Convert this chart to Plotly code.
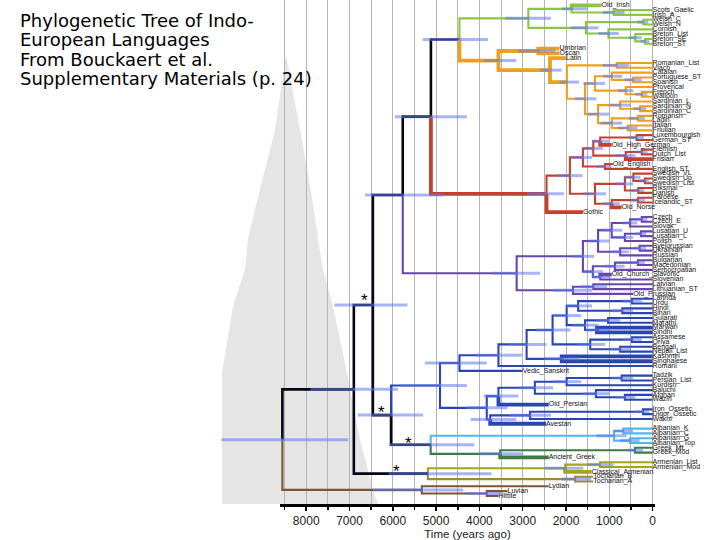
import plotly.graph_objects as go

# ---------------- data ----------------
leaf_names = [
    "Old_Irish", "Scots_Gaelic", "Irish_A", "Welsh_C", "Welsh_N", "Cornish", "Breton_List", "Breton_SE", "Breton_ST",
    "Umbrian", "Oscan", "Latin", "Romanian_List", "Vlach", "Catalan", "Portuguese_ST", "Spanish", "Provencal",
    "French", "Walloon", "Sardinian_L", "Sardinian_N", "Sardinian_C", "Romansh", "Ladin", "Italian", "Friulian",
    "Luxembourgish", "German_ST", "Old_High_German", "Flemish", "Dutch_List", "Frisian", "Old_English", "English_ST",
    "Swedish_VL", "Swedish_Up", "Swedish_List", "Riksmal", "Danish", "Faroese", "Icelandic_ST", "Old_Norse", "Gothic",
    "Czech", "Czech_E", "Slovak", "Lusatian_U", "Lusatian_L", "Polish", "Byelorussian", "Ukrainian", "Russian",
    "Bulgarian", "Macedonian", "Serbocroatian", "Old_Church_Slavonic", "Slovenian", "Latvian", "Lithuanian_ST",
    "Old_Prussian", "Lahnda", "Urdu", "Hindi", "Bihari", "Gujarati", "Marathi", "Marwari", "Sindhi", "Assamese",
    "Oriya", "Bengali", "Nepali_List", "Kashmiri", "Singhalese", "Romani", "Vedic_Sanskrit", "Tadzik", "Persian_List",
    "Kurdish", "Baluchi", "Afghan", "Waziri", "Old_Persian", "Iron_Ossetic", "Digor_Ossetic", "Wakhi", "Avestan",
    "Albanian_K", "Albanian_C", "Albanian_G", "Albanian_Top", "Greek_ML", "Greek_Mod", "Ancient_Greek",
    "Armenian_List", "Armenian_Mod", "Classical_Armenian", "Tocharian_B", "Tocharian_A", "Lydian", "Luvian", "Hittite",
]
leaf_parents = [
    "GOI", "SGI", "SGI", "WEL", "WEL", "CB", "BRE", "BRE2", "BRE2",
    "OU", "OU", "LR", "EROM", "EROM", "IBE", "PS", "PS", "GAL",
    "FW", "FW", "SAR", "SAR2", "SAR2", "RL", "RL", "IF", "IF",
    "LG", "LG", "HG", "FD", "FD", "LOW", "ENG", "ENG",
    "SWE", "SWE2", "SWE2", "RD", "RD", "FI", "FI", "WSC", "GERM",
    "CZ", "CZ", "CZS", "LUS", "LUS", "LUP", "BU", "BU", "ESL",
    "BM", "BM", "BMS", "OS", "OS", "LL", "LL",
    "BAL", "LU", "LU", "HB", "HB", "GM", "GM", "MS", "MS", "AO",
    "AO", "BN", "BN", "KS", "KS", "IND", "IA", "TP", "TP",
    "TPK", "BAW", "AW", "AW", "WIR", "OSS", "OSS", "OW", "EIR",
    "KC", "KC", "GT", "GT", "GRM", "GRM", "GRK",
    "ARM_MOD", "ARM_MOD", "ARM", "TOCH", "TOCH", "ANAT", "LH", "LH",
]
leaf_ages = [
    1180, 0, 0, 0, 0, 0, 0, 0, 0,
    2150, 2150, 2000, 0, 0, 0, 0, 0, 0,
    0, 0, 0, 0, 0, 0, 0, 0, 0,
    0, 0, 945, 0, 0, 0, 920, 0,
    0, 0, 0, 0, 0, 0, 0, 715, 1610,
    0, 0, 0, 0, 0, 0, 0, 0, 0,
    0, 0, 0, 945, 0, 0, 0,
    450, 0, 0, 0, 0, 0, 0, 0, 0, 0,
    0, 0, 0, 0, 0, 0, 3000, 0, 0,
    0, 0, 0, 0, 2400, 0, 0, 0, 2460,
    0, 0, 0, 0, 0, 0, 2400,
    0, 0, 1410, 1370, 1370, 2400, 3350, 3560,
]

node_names = [
    "ROOT", "C", "ANAT", "LH", "B", "TA", "ARM", "ARM_MOD", "TOCH", "A", "D", "A1", "BSL", "CI", "GERM",
    "CEL", "GOI", "SGI", "BRY", "WEL", "CB", "BRE", "BRE2",
    "ITA", "OU", "LR", "ROM", "EROM", "RROM", "WROM", "IBE", "PS", "GAL", "FW", "SI", "SAR", "SAR2", "ITR", "RL", "IF",
    "NWG", "WG", "CONT", "HG", "LG", "LOW", "FD", "ENG", "NG", "ESC", "SWE", "SWE2", "RD", "WSC", "FI",
    "SLA", "WE", "WSL", "CZS", "CZ", "LUP", "LUS", "ESL", "BU", "SSL", "BMS", "BM", "OS", "BAL", "LL",
    "II", "IA", "IND", "X", "Y", "Z", "N1", "LU", "HB", "N2", "GM", "MS", "E", "AO", "BN", "KS",
    "IR", "WIR", "Q", "TPK", "TP", "BAW", "AW", "EIR", "OW", "OSS",
    "AG", "ALB", "KC", "GT", "GRK", "GRM",
]
node_parents = [
    None, "ROOT", "ROOT", "ANAT", "C", "C", "TA", "ARM", "TA", "B", "B", "A", "A", "A1", "A1",
    "CI", "CEL", "GOI", "CEL", "BRY", "BRY", "CB", "BRE",
    "CI", "ITA", "ITA", "LR", "ROM", "ROM", "RROM", "WROM", "IBE", "WROM", "GAL", "RROM", "SI", "SAR", "SI", "ITR", "ITR",
    "GERM", "NWG", "WG", "CONT", "HG", "CONT", "LOW", "WG", "NWG", "NG", "ESC", "SWE", "ESC", "NG", "WSC",
    "BSL", "SLA", "WE", "WSL", "CZS", "WSL", "LUP", "WE", "ESL", "SLA", "SSL", "BMS", "SSL", "BSL", "BAL",
    "D", "II", "IA", "IND", "X", "Y", "Z", "N1", "N1", "Z", "N2", "N2", "Y", "E", "E", "X",
    "II", "IR", "WIR", "Q", "TPK", "Q", "BAW", "IR", "EIR", "OW",
    "D", "AG", "ALB", "ALB", "AG", "GRK",
]
node_ages = [
    8550, 6900, 5330, 3830, 6460, 5190, 2020, 1215, 1790, 5770, 6040, 5120, 3140, 4460, 2450,
    2870, 1870, 900, 1540, 215, 1020, 400, 175,
    3560, 2640, 2370, 1980, 830, 1560, 1330, 940, 450, 620, 250, 1260, 750, 290, 940, 340, 570,
    1910, 1610, 1370, 1210, 370, 620, 250, 1100, 1330, 640, 445, 180, 330, 945, 335,
    1610, 1260, 945, 520, 250, 640, 270, 750, 300, 1380, 870, 340, 1210, 1840, 1370,
    4910, 4460, 3560, 2910, 2310, 1985, 1720, 475, 700, 1560, 1030, 1285, 1440, 475, 750, 2100,
    3830, 3560, 2720, 1985, 715, 1310, 640, 3750, 2830, 220,
    5125, 890, 680, 520, 3520, 405,
]
hpd_old = [
    9960, 7900, 6460, 4300, 7350, 6100, 2500, 1500, 2100, 6640, 6810, 5950, 3700, 5310, 2900,
    3400, 2100, 1150, 1900, 350, 1250, 550, 280,
    3900, 3100, 2600, 2150, 1150, 1800, 1600, 1150, 650, 800, 400, 1500, 1000, 450, 1200, 550, 800,
    2200, 1850, 1600, 1400, 550, 850, 400, 1300, 1600, 850, 650, 300, 480, 1150, 500,
    1850, 1500, 1200, 700, 380, 850, 400, 950, 450, 1600, 1100, 500, 1400, 2300, 1650,
    5800, 5260, 4100, 3300, 2700, 2300, 2000, 700, 950, 1850, 1300, 1550, 1750, 700, 1000, 2500,
    4300, 3900, 3100, 2300, 950, 1600, 850, 4200, 3300, 400,
    6080, 1300, 900, 750, 4000, 600,
]
hpd_young = [
    7030, 5880, 4380, 3500, 5660, 3720, 1600, 900, 1420, 4820, 5300, 4290, 2600, 3800, 2050,
    2350, 1500, 650, 1250, 100, 780, 250, 80,
    3150, 2250, 2100, 1700, 550, 1300, 1100, 700, 250, 450, 120, 1000, 500, 150, 700, 180, 350,
    1620, 1400, 1150, 1000, 200, 400, 120, 950, 1080, 450, 280, 80, 200, 760, 180,
    1350, 1000, 700, 350, 120, 450, 150, 550, 150, 1150, 650, 180, 980, 1400, 1050,
    4290, 3830, 3020, 2450, 1900, 1650, 1400, 250, 450, 1250, 750, 1000, 1100, 250, 500, 1700,
    3350, 3100, 2300, 1650, 450, 1000, 400, 3150, 2350, 80,
    4120, 600, 450, 300, 3000, 220,
]

# root-age density (relative height)
density_ages = [9945, 9945, 9691, 9414, 9344, 9113, 8721, 8467, 8143, 7866, 7728, 7612, 7381, 7058, 6757, 6457, 6342]
density_heights = [0.0, 0.292, 0.440, 0.523, 0.590, 0.684, 0.833, 1.0, 0.833, 0.684, 0.590, 0.523, 0.440, 0.292,
                   0.143, 0.031, 0.0]

tick_years = [0, 1000, 2000, 3000, 4000, 5000, 6000, 7000, 8000]
title_lines = ["Phylogenetic Tree of Indo-", "European Languages", "From Bouckaert et al.",
               "Supplementary Materials (p. 24)"]
star_ages = [6660, 6255, 5640, 5910]
star_rows = [60.6, 83.8, 90.2, 96.1]

# ---------------- styles ----------------
clade_colors = {
    "CEL": "#8CC63E", "ITA": "#EBA11E", "GERM": "#C4402E", "BSL": "#6845AC",
    "II": "#2A44B0", "ALB": "#4DB8F0", "GRK": "#3F7A45", "ARM": "#A8A21E",
    "TOCH": "#9C8A3A", "ANAT": "#7B5535",
}
backbone_color = "#050515"
thick_branches = ["Old_Irish", "Umbrian", "Oscan", "OU", "ITA", "LR", "Latin", "ROM", "Gothic", "GERM",
                  "Old_Norse", "Old_High_German", "Frisian", "Old_Church_Slavonic", "Old_Persian", "Avestan",
                  "Ancient_Greek", "Classical_Armenian", "Kashmiri", "Singhalese", "Marwari", "Sindhi"]
backbone_nodes = ["C", "B", "A", "A1", "CI", "D", "AG", "TA"]

# ---------------- tree layout ----------------
parent, age = {}, {}
for n, p, a in zip(leaf_names, leaf_parents, leaf_ages):
    parent[n], age[n] = p, a
for n, p, a in zip(node_names, node_parents, node_ages):
    parent[n], age[n] = p, a
children = {}
for n, p in parent.items():
    if p is not None:
        children.setdefault(p, []).append(n)
ypos = {n: i for i, n in enumerate(leaf_names)}


def get_y(n):
    if n not in ypos:
        ys = [get_y(c) for c in children[n]]
        ypos[n] = (min(ys) + max(ys)) / 2.0
    return ypos[n]


for n in node_names:
    get_y(n)


def color_of(n):
    while n is not None:
        if n in clade_colors:
            return clade_colors[n]
        n = parent[n]
    return backbone_color


def width_of(n):
    if n in thick_branches:
        return 3.8
    if n in backbone_nodes:
        return 2.6
    return 2.1


fig = go.Figure()

# density silhouette on its own (wider) axis, drawn first
fig.add_trace(go.Scatter(x=density_ages, y=density_heights, xaxis="x", yaxis="y", mode="lines",
                         fill="toself", fillcolor="#E5E5E5", line=dict(width=0), hoverinfo="skip",
                         showlegend=False))

groups = {}
for n in list(parent.keys()):
    p = parent[n]
    if p is None:
        continue
    key = (color_of(n), width_of(n))
    xs, ys = groups.setdefault(key, ([], []))
    xs += [age[p], age[p], age[n], None]
    ys += [ypos[p], ypos[n], ypos[n], None]

for (col, w), (xs, ys) in sorted(groups.items(), key=lambda kv: kv[0][1]):
    fig.add_trace(go.Scatter(x=xs, y=ys, xaxis="x2", yaxis="y2", mode="lines",
                             line=dict(color=col, width=w), hoverinfo="skip", showlegend=False,
                             cliponaxis=False))

fig.add_trace(go.Scatter(x=leaf_ages, y=list(range(len(leaf_names))), xaxis="x2", yaxis="y2", mode="text",
                         text=leaf_names, textposition="middle right",
                         textfont=dict(family="Liberation Sans, Arial", size=7, color="#111111"),
                         hoverinfo="skip", showlegend=False, cliponaxis=False))

# HPD bars on a wide overlay subplot (same scale as the tree, wider span) so the root bar is not clipped
bx, by = [], []
for n, lo, hi in zip(node_names, hpd_old, hpd_young):
    bx += [lo, hi, None]
    by += [ypos[n], ypos[n], None]
fig.add_trace(go.Scatter(x=bx, y=by, xaxis="x3", yaxis="y3", mode="lines",
                         line=dict(color="rgba(95,120,238,0.55)", width=3), hoverinfo="skip",
                         showlegend=False))

annotations = []
for a_, r_ in zip(star_ages, star_rows):
    annotations.append(dict(x=a_, y=r_, xref="x2", yref="y2", text="*", showarrow=False, yshift=-4,
                            font=dict(family="Liberation Sans, Arial", size=17, color="black")))
line_px = [20.5, 40.0, 59.3, 78.5]
for txt, py in zip(title_lines, line_px):
    annotations.append(dict(x=(18.0 - 200) / 455.0, y=1 - py / 504.0, xref="paper", yref="paper",
                            xanchor="left", yanchor="middle", text=txt, showarrow=False,
                            font=dict(family="DejaVu Sans", size=18, color="black")))

y_tree_range = [103.68, -1.10]
fig.update_layout(
    width=720, height=540,
    margin=dict(l=200, r=65, t=0, b=36, autoexpand=False),
    paper_bgcolor="white", plot_bgcolor="rgba(0,0,0,0)",
    showlegend=False,
    xaxis=dict(domain=[0, 1], range=[10453, -55], visible=False, anchor="y"),
    yaxis=dict(domain=[0, 1], range=[0, 1.1225], visible=False, anchor="x"),
    xaxis2=dict(domain=[80 / 455.0, 1], range=[8605, -55], anchor="y2",
                tickmode="array", tickvals=tick_years, ticktext=[str(t) for t in tick_years],
                showgrid=True, gridcolor="#B4B4B4", gridwidth=1, zeroline=False,
                minor=dict(dtick=500, tick0=0, showgrid=True, gridcolor="#B4B4B4", gridwidth=1,
                           ticks="outside", ticklen=3, tickcolor="black"),
                ticks="outside", ticklen=4, tickwidth=1.5, tickcolor="black",
                showline=True, linecolor="black", linewidth=2.5,
                tickfont=dict(family="Liberation Sans, Arial", size=12, color="#222222"),
                title=dict(text="Time (years ago)", standoff=3,
                           font=dict(family="Liberation Sans, Arial", size=11.5, color="#222222")),
                automargin=False, fixedrange=True),
    yaxis2=dict(domain=[0, 1], range=y_tree_range, anchor="x2", visible=False, showgrid=False,
                zeroline=False),
    xaxis3=dict(domain=[0, 1], range=[10453, -55], visible=False, anchor="y3"),
    yaxis3=dict(domain=[0, 1], range=y_tree_range, visible=False, anchor="x3"),
    annotations=annotations,
)

fig.write_html("out.html", config={"displayModeBar": False, "staticPlot": True})

# remove the browser's default page margin so the 720x540 figure sits at the window origin
with open("out.html", "r", encoding="utf-8") as fh:
    page = fh.read()
page = page.replace("<head>", "<head><style>html,body{margin:0;padding:0;overflow:hidden;}</style>", 1)
with open("out.html", "w", encoding="utf-8") as fh:
    fh.write(page)
